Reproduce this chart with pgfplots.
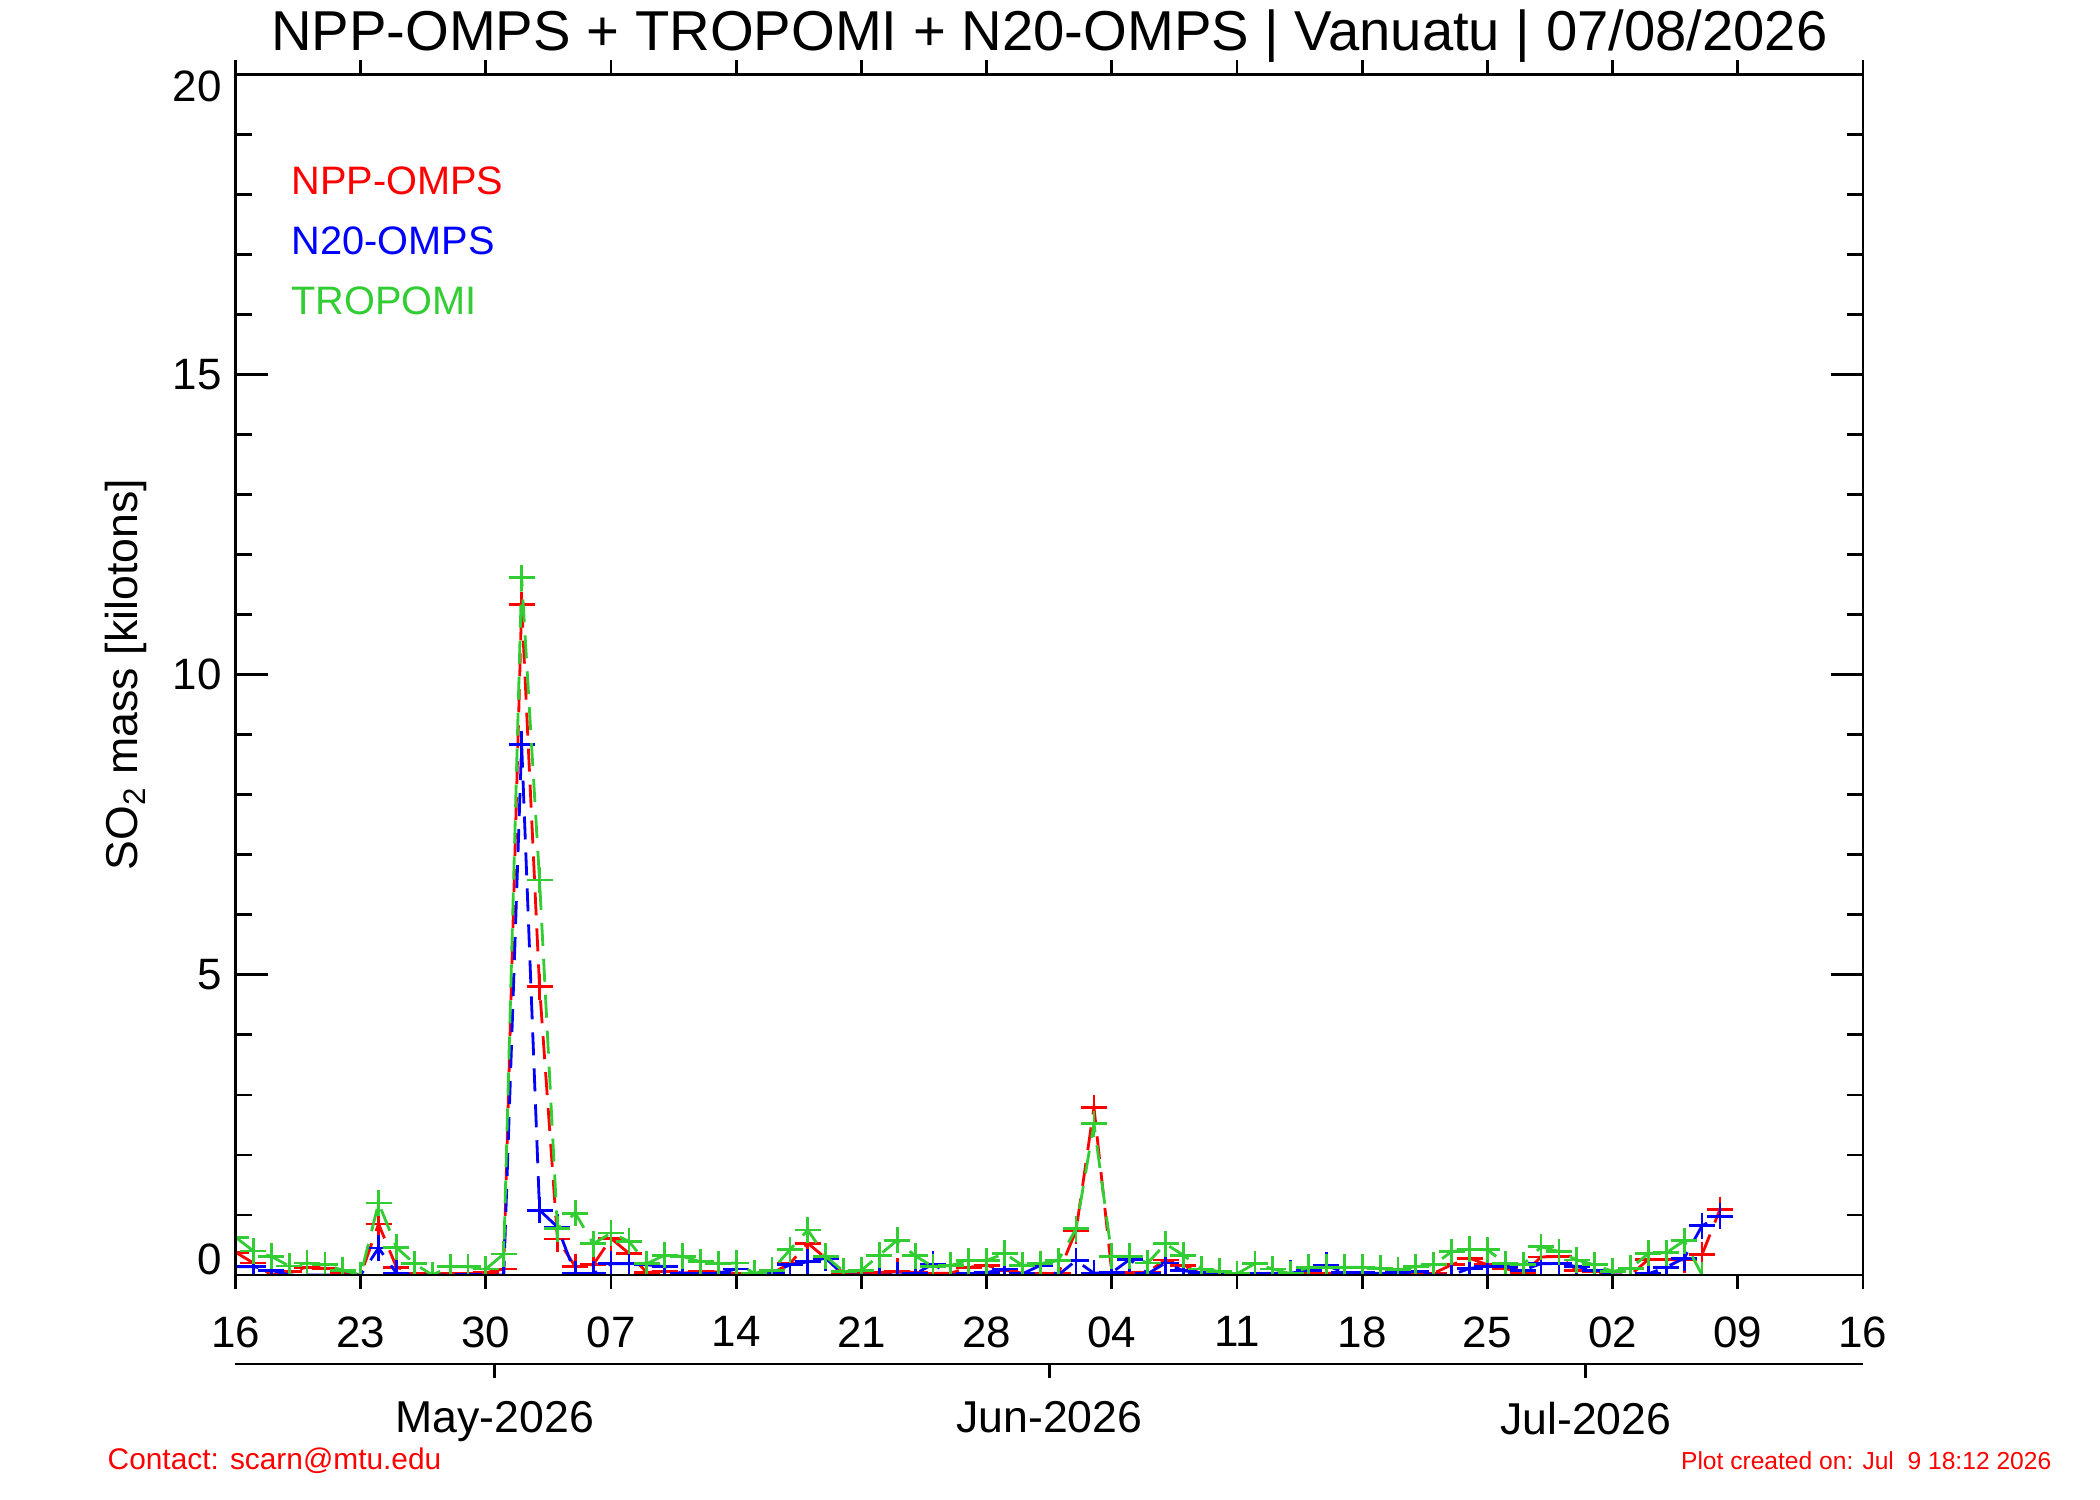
\documentclass[border=0pt]{standalone}
\usepackage{fontspec}
\setmainfont{Liberation Sans}
\usepackage{pgfplots}
\usepackage{pgfplotstable}
\pgfplotsset{compat=1.18}
\definecolor{npp}{RGB}{255,0,0}
\definecolor{nto}{RGB}{0,0,255}
\definecolor{trop}{RGB}{50,205,50}

\pgfplotstableread{
d r b g
0 0.38 0.14 0.63
1 0.20 0.14 0.40
2 0.00 0.08 0.31
3 0.06 0.00 0.15
4 0.13 0.00 0.20
5 0.11 0.00 0.17
6 0.04 0.00 0.08
7 0.00 0.00 0.00
8 0.85 0.45 1.20
9 0.13 0.03 0.46
10 0.03 0.00 0.19
11 0.00 0.00 0.00
12 0.02 0.00 0.14
13 0.02 0.01 0.14
14 0.04 0.00 0.10
15 0.10 0.00 0.35
16 11.17 8.84 11.62
17 4.80 1.08 6.58
18 0.60 0.80 0.77
19 0.14 0.02 1.03
20 0.17 0.02 0.52
21 0.61 0.19 0.70
22 0.36 0.19 0.56
23 0.04 0.17 0.19
24 0.06 0.14 0.33
25 0.03 0.02 0.31
26 0.06 0.02 0.22
27 0.05 0.03 0.19
28 0.03 0.10 0.20
29 0.02 0.02 0.03
30 0.03 0.03 0.08
31 0.19 0.17 0.42
32 0.53 0.22 0.75
33 0.28 0.28 0.31
34 0.03 0.00 0.06
35 0.03 0.00 0.08
36 0.04 0.00 0.33
37 0.06 0.00 0.58
38 0.04 0.02 0.32
39 0.03 0.18 0.14
40 0.03 0.00 0.16
41 0.13 0.02 0.24
42 0.16 0.04 0.24
43 0.08 0.10 0.36
44 0.03 0.02 0.16
45 0.03 0.16 0.19
46 0.02 0.00 0.24
47 0.74 0.24 0.77
48 2.79 0.03 2.52
49 0.04 0.04 0.31
50 0.04 0.26 0.31
51 0.05 0.02 0.20
52 0.25 0.20 0.52
53 0.16 0.07 0.33
54 0.02 0.04 0.10
55 0.02 0.03 0.06
56 0.02 0.02 0.02
57 0.03 0.02 0.19
58 0.02 0.03 0.10
59 0.02 0.03 0.02
60 0.02 0.08 0.13
61 0.03 0.16 0.13
62 0.03 0.04 0.13
63 0.02 0.04 0.13
64 0.03 0.03 0.11
65 0.02 0.04 0.09
66 0.02 0.06 0.14
67 0.03 0.00 0.17
68 0.17 0.00 0.39
69 0.28 0.11 0.43
70 0.17 0.14 0.42
71 0.11 0.14 0.19
72 0.02 0.08 0.17
73 0.30 0.19 0.47
74 0.31 0.19 0.39
75 0.08 0.14 0.25
76 0.06 0.08 0.17
77 0.00 0.00 0.06
78 0.00 0.00 0.11
79 0.26 0.02 0.36
80 0.26 0.13 0.37
81 0.25 0.28 0.57
82 0.34 0.82 0.00
83 1.09 0.98 nan
}\data

\pgfplotsset{
  base/.style={
    width=162.75mm, height=120.05mm, scale only axis,
    xmin=0, xmax=91, ymin=0, ymax=20,
    at={(23.55mm,22.5mm)}, anchor=south west,
    axis line style={line width=0.8pt},
    tick style={line width=0.8pt, black},
  },
  ser/.style={#1, line width=0.8pt, dash pattern=on 2.3mm off 1.3mm,
    mark=+, mark size=1.3mm, mark options={solid, line width=0.8pt}},
}

\begin{document}
\begin{tikzpicture}
\useasboundingbox (0,0) rectangle (210mm,150mm);

% main axis: data, y ticks (inside)
\begin{axis}[base,
  clip marker paths=true,
  xtick=\empty,
  ytick={0,5,10,15,20},
  yticklabels={{\smash{0}},5,10,15,{\smash{\raisebox{-2.7mm}{20}}}},
  minor y tick num=4,
  tick align=inside,
  major tick length=3.2mm, minor tick length=1.6mm,
  yticklabel style={font=\fontsize{12.5}{14}\selectfont, inner sep=0pt, xshift=-1.3mm},
  ylabel={SO\textsubscript{2} mass [kilotons]},
  ylabel style={font=\fontsize{12.7}{15}\selectfont, at={(axis description cs:-0.067,0.5)}, anchor=center},
]
\addplot[ser=npp] table[x=d, y=r] {\data};
\addplot[ser=nto] table[x=d, y=b] {\data};
\addplot[ser=trop] table[x=d, y=g] {\data};
\node[anchor=base west, text=npp, font=\fontsize{11.3}{13}\selectfont, inner sep=0pt] at (axis cs:3.1,18) {NPP-OMPS};
\node[anchor=base west, text=nto, font=\fontsize{11.3}{13}\selectfont, inner sep=0pt] at (axis cs:3.1,17) {N20-OMPS};
\node[anchor=base west, text=trop, font=\fontsize{11.3}{13}\selectfont, inner sep=0pt] at (axis cs:3.1,16) {TROPOMI};
\end{axis}

% overlay axis: x ticks (outside)
\begin{axis}[base,
  ytick=\empty,
  xtick={0,7,...,91},
  xticklabels={16,23,30,07,14,21,28,04,11,18,25,02,09,16},
  tick align=outside,
  major tick length=1.4mm,
  xticklabel style={font=\fontsize{12.5}{14}\selectfont, inner sep=0pt, yshift=-2.7mm},
]
\end{axis}

% month axis
\begin{axis}[
  width=162.75mm, height=10mm, scale only axis,
  xmin=0, xmax=91, ymin=0, ymax=1,
  at={(23.55mm,13.6mm)}, anchor=south west,
  axis x line*=bottom, axis y line=none,
  axis line style={line width=0.8pt},
  tick style={line width=0.8pt, black},
  xtick={14.5,45.5,75.5},
  xticklabels={May-2026,Jun-2026,Jul-2026},
  ytick=\empty,
  tick align=outside,
  major tick length=1.4mm,
  xticklabel style={font=\fontsize{12.7}{15}\selectfont, inner sep=0pt, yshift=-2.3mm},
]
\end{axis}

\node[anchor=base, font=\fontsize{16}{19}\selectfont, inner sep=0pt] at (104.93mm,144.9mm) {NPP-OMPS + TROPOMI + N20-OMPS | Vanuatu | 07/08/2026};
\node[anchor=base west, text=red, font=\fontsize{8.5}{10}\selectfont, inner sep=0pt] at (10.7mm,3mm) {Contact: scarn@mtu.edu};
\node[anchor=base east, text=red, font=\fontsize{7}{8.5}\selectfont, inner sep=0pt] at (205.2mm,3mm) {Plot created on: Jul\ \ 9 18:12 2026};
\end{tikzpicture}
\end{document}
